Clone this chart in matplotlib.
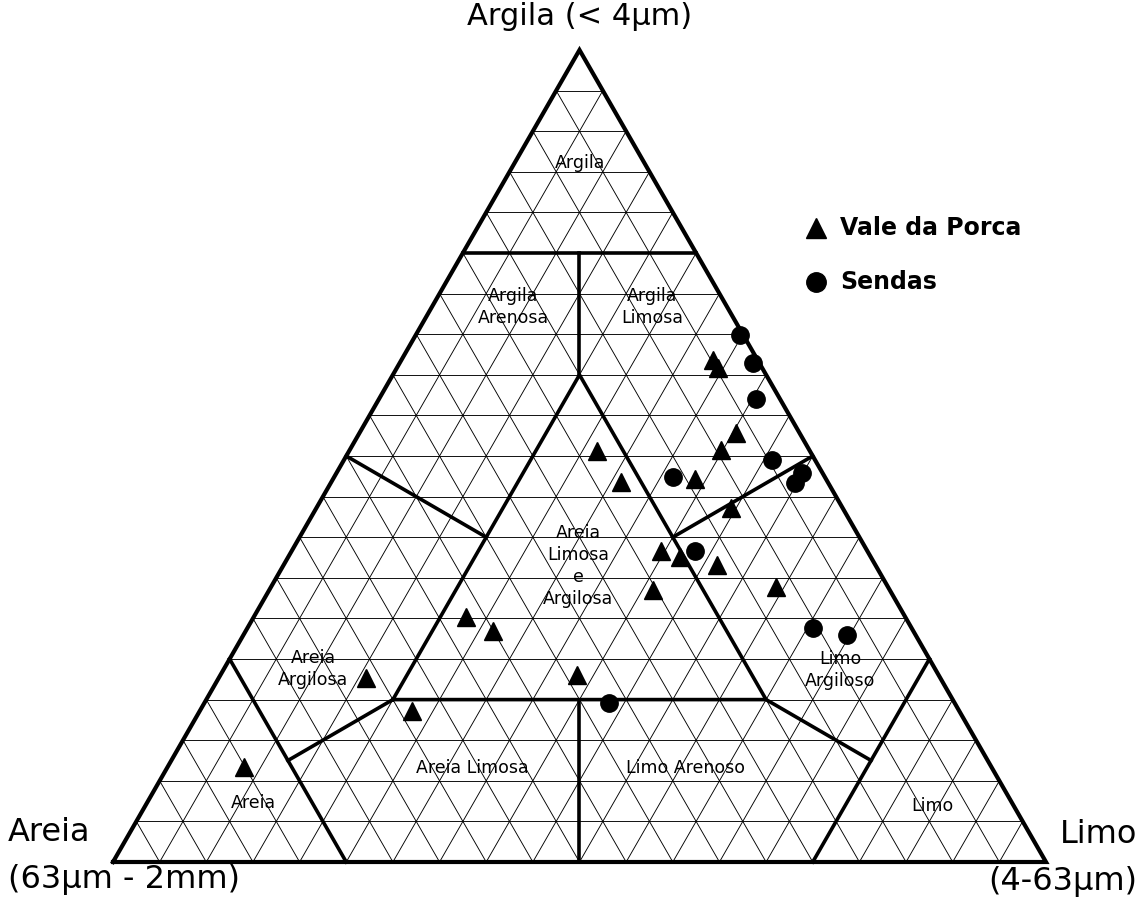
import matplotlib
matplotlib.use("Agg")
import matplotlib.pyplot as plt
import numpy as np

# ---- data (percent) ----
vp_sand = [4.8, 4.8, 6.8, 9.5, 22.8, 22.2, 14.0, 12.0, 22.1, 20.4, 17.0, 25.4, 12.0, 47.1, 45.1, 61.5, 38.8, 58.7, 80.1]
vp_silt = [33.4, 34.4, 40.4, 39.8, 26.6, 31.0, 38.8, 44.4, 39.6, 42.0, 46.4, 41.1, 54.1, 22.7, 26.5, 15.8, 38.2, 22.7, 8.2]
vp_clay = [61.8, 60.8, 52.8, 50.7, 50.6, 46.8, 47.2, 43.6, 38.3, 37.6, 36.6, 33.5, 33.9, 30.2, 28.4, 22.7, 23.0, 18.6, 11.7]

se_sand = [0.4, 0.7, 2.6, 4.6, 2.2, 3.6, 16.3, 18.5, 10.6, 7.3, 37.0]
se_silt = [34.7, 37.8, 40.4, 45.9, 49.9, 49.7, 36.3, 43.2, 60.6, 64.7, 43.4]
se_clay = [64.9, 61.5, 57.0, 49.5, 47.9, 46.7, 47.4, 38.3, 28.8, 28.0, 19.6]

series_names = ["Vale da Porca", "Sendas"]
apex_labels = ["Argila (< 4\u03bcm)", "Areia\n(63\u03bcm - 2mm)", "Limo\n(4-63\u03bcm)"]
region_names = ["Argila", "Argila\nArenosa", "Argila\nLimosa", "Areia\nLimosa\ne\nArgilosa",
                "Areia\nArgilosa", "Areia Limosa", "Limo Arenoso", "Areia", "Limo\nArgiloso", "Limo"]

# ---- helpers ----
def tern(sand, silt, clay):
    s = np.asarray(sand, float) / 100.0
    t = np.asarray(silt, float) / 100.0
    c = np.asarray(clay, float) / 100.0
    tot = s + t + c
    t, c = t / tot, c / tot
    return t + c / 2.0, c

W, H = 1142, 915
fig = plt.figure(figsize=(W / 100, H / 100), dpi=100)
ax = fig.add_axes([0, 0, 1, 1])
# pixel mapping: x_px = 113 + 933*X ; y_px = 862 - 812*Y
ax.set_xlim(-113 / 933, (W - 113) / 933)
ax.set_ylim(-(H - 862) / 812, 862 / 812)
ax.axis("off")

def px(xp, yp):
    return (xp - 113) / 933, (862 - yp) / 812

# grid every 5 %
thin = dict(color="black", lw=0.65, zorder=1)
for i in range(1, 20):
    f = i * 5.0
    ax.plot(*tern([100 - f, 0], [0, 100 - f], [f, f]), **thin)      # constant clay
    ax.plot(*tern([100 - f, 0], [f, f], [0, 100 - f]), **thin)      # constant silt
    ax.plot(*tern([f, f], [100 - f, 0], [0, 100 - f]), **thin)      # constant sand

# outer triangle
ax.plot(*tern([100, 0, 0, 100], [0, 100, 0, 0], [0, 0, 100, 0]), color="black", lw=3.0,
        solid_joinstyle="miter", zorder=3)

# Shepard boundaries (sand, silt, clay)
segments = [
    [(25, 0, 75), (0, 25, 75)],
    [(12.5, 12.5, 75), (20, 20, 60)],
    [(60, 20, 20), (20, 20, 60), (20, 60, 20), (60, 20, 20)],
    [(50, 0, 50), (40, 20, 40)],
    [(0, 50, 50), (20, 40, 40)],
    [(40, 40, 20), (50, 50, 0)],
    [(60, 20, 20), (75, 12.5, 12.5)],
    [(20, 60, 20), (12.5, 75, 12.5)],
    [(75, 0, 25), (75, 25, 0)],
    [(0, 75, 25), (25, 75, 0)],
]
for seg in segments:
    s, t, c = zip(*seg)
    ax.plot(*tern(s, t, c), color="black", lw=2.6, zorder=3)

# region labels (pixel anchors)
region_px = [(580, 163), (513, 307), (652, 307), (578, 566), (313, 669), (472, 768),
             (686, 768), (253, 803), (840, 670), (932, 806)]
for name, (xp, yp) in zip(region_names, region_px):
    ax.text(*px(xp, yp), name, ha="center", va="center", fontsize=12.5, linespacing=1.3,
            zorder=4)

# data points
ax.plot(*tern(vp_sand, vp_silt, vp_clay), ls="none", marker="^", ms=12.5, color="black",
        zorder=5, label=series_names[0])
ax.plot(*tern(se_sand, se_silt, se_clay), ls="none", marker="o", ms=12.5, color="black",
        zorder=5, label=series_names[1])

# legend (manual)
ax.plot(*px(816, 228), marker="^", ms=14, color="black", ls="none")
ax.text(*px(840, 228), series_names[0], ha="left", va="center", fontsize=17, fontweight="bold")
ax.plot(*px(816, 282), marker="o", ms=14, color="black", ls="none")
ax.text(*px(840, 282), series_names[1], ha="left", va="center", fontsize=17, fontweight="bold")

# apex labels
ax.text(*px(580, 16), apex_labels[0], ha="center", va="center", fontsize=22)
ax.text(*px(8, 856), apex_labels[1], ha="left", va="center", fontsize=23, linespacing=1.65)
ax.text(*px(1137, 858), apex_labels[2], ha="right", va="center", fontsize=23, linespacing=1.65,
        multialignment="right")

fig.savefig("out.png", dpi=100)
